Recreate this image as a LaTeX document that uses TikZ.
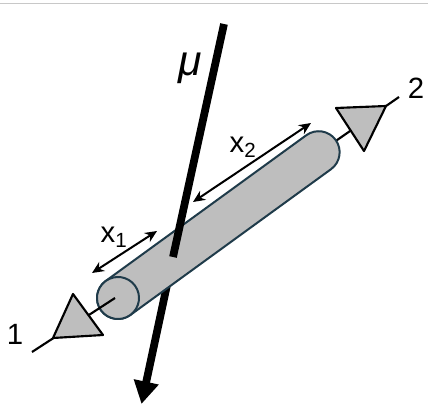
\documentclass[tikz,border=0pt]{standalone}
\usepackage{fontspec}
\setmainfont{Liberation Sans}
\usetikzlibrary{arrows.meta, calc}
\definecolor{rodgray}{HTML}{BEBEBE}
\definecolor{rodedge}{HTML}{1F3B4A}
\definecolor{framecol}{HTML}{C8C8C8}

\begin{document}
\begin{tikzpicture}[
    x=0.75pt, y=0.75pt,
    rodbox/.style  = {draw=rodedge, fill=rodgray, line width=1.5pt},
    tribox/.style  = {draw=black, fill=rodgray, line width=1.6pt, line join=round},
    lead/.style    = {draw=black, line width=1.6pt},
    muon/.style    = {draw=black, line width=5.8pt},
    dimarr/.style  = {{Stealth[length=9pt,width=8pt]}-{Stealth[length=9pt,width=8pt]},
                      line width=1.5pt},
    lbl/.style     = {font=\fontsize{22}{24}\selectfont, inner sep=0pt}
  ]
  \useasboundingbox (0,0) rectangle (428,404);

  %% top rule
  \coordinate (ruleL) at (0,400.5);
  \coordinate (ruleR) at (428,400.5);
  \draw[framecol, line width=0.8pt] (ruleL) -- (ruleR);

  %% muon track
  \coordinate (mutop) at (224,380);
  \coordinate (mumid) at (173,147);
  \coordinate (mutip) at (141.5,0);
  \draw[muon, -{Triangle[length=17pt,width=18pt]}] (mumid) -- (mutip);

  %% lead to detector 2
  \coordinate (lead2a) at (317,250);
  \coordinate (lead2b) at (399,307);
  \draw[lead] (lead2a) -- (lead2b);
  \coordinate (tr2a) at (336,296);
  \coordinate (tr2b) at (386,298);
  \coordinate (tr2c) at (364,253);
  \draw[tribox] (tr2a) -- (tr2b) -- (tr2c) -- cycle;

  %% scintillator rod
  \begin{scope}[shift={(118,106)}, rotate=36]
    \draw[rodbox] (0,21) -- (248,21)
        arc[start angle=90, end angle=-90, radius=21]
        -- (0,-21) arc[start angle=270, end angle=90, radius=21] -- cycle;
    \draw[rodbox] (0,0) circle (21);
  \end{scope}

  %% lead and detector 1
  \coordinate (lead1a) at (115,106);
  \coordinate (lead1b) at (32,52);
  \draw[lead] (lead1a) -- (lead1b);
  \coordinate (tr1a) at (73,110);
  \coordinate (tr1b) at (53,66);
  \coordinate (tr1c) at (103,69);
  \draw[tribox] (tr1a) -- (tr1b) -- (tr1c) -- cycle;

  %% muon, part in front of the rod
  \draw[muon] (mutop) -- (mumid);

  %% distance arrows
  \coordinate (xa) at (92,131);
  \coordinate (xb) at (157,173);
  \coordinate (xc) at (193,202);
  \coordinate (xd) at (311,281);
  \draw[dimarr] (xa) -- (xb);
  \draw[dimarr] (xc) -- (xd);

  %% Labels
  \node[lbl] (xone) at (114,167) {x\textsubscript{1}};
  \node[lbl] (xtwo) at (243,257) {x\textsubscript{2}};
  \node[lbl] (det1) at (15,70)   {1};
  \node[lbl] (det2) at (416,316) {2};
  \node[lbl] (mulabel) at (190,336) {\fontsize{32}{32}\selectfont\itshape μ};

\end{tikzpicture}
\end{document}
